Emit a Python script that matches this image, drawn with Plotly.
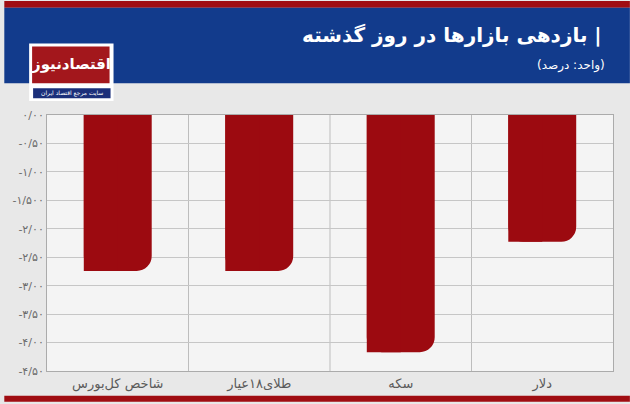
import plotly.graph_objects as go

categories = ["شاخص کل‌بورس", "طلای۱۸عیار", "سکه", "دلار"]
values = [-2.74, -2.74, -4.17, -2.23]
tick_vals = [0, -0.5, -1, -1.5, -2, -2.5, -3, -3.5, -4, -4.5]
tick_text = ["۰/۰۰", "-۰/۵۰", "-۱/۰۰", "-۱/۵۰۰", "-۲/۰۰", "-۲/۵۰", "-۳/۰۰", "-۳/۵۰", "-۴/۰۰", "-۴/۵۰"]
title_text = "بازدهی بازارها در روز گذشته"
subtitle_text = "(واحد: درصد)"
logo_text = "اقتصادنیوز"
logo_sub = "سایت مرجع اقتصاد ایران"

W, H = 630, 404
L, R, T, B = 43, 17, 115, 31
PW, PH = W - L - R, H - T - B

def px(x):
    return (x - L) / PW

def py(y):
    return (H - B - y) / PH

BAR = "#9c0a10"
BLUE = "#123b8c"
RED = "#a00d12"
FONT = "DejaVu Sans"

fig = go.Figure()
fig.add_trace(go.Bar(x=categories, y=values, width=0.48, marker=dict(color=BAR, line=dict(width=0), cornerradius=15),
                     hoverinfo="skip", showlegend=False))
fig.add_trace(go.Bar(x=categories, y=values, width=0.24, offset=-0.24, marker=dict(color=BAR, line=dict(width=0)),
                     hoverinfo="skip", showlegend=False))

shapes = []
# header bands
shapes.append(dict(type="rect", xref="paper", yref="paper", x0=px(0), x1=px(W), y0=py(7), y1=py(0),
                   fillcolor=RED, line=dict(width=0), layer="below"))
shapes.append(dict(type="rect", xref="paper", yref="paper", x0=px(0), x1=px(W), y0=py(83), y1=py(7),
                   fillcolor=BLUE, line=dict(width=0), layer="below"))
shapes.append(dict(type="rect", xref="paper", yref="paper", x0=px(0), x1=px(W), y0=py(H), y1=py(398),
                   fillcolor=RED, line=dict(width=0), layer="below"))
# logo
shapes.append(dict(type="rect", xref="paper", yref="paper", x0=px(25), x1=px(110), y0=py(101), y1=py(43),
                   fillcolor="white", line=dict(width=0), layer="above"))
shapes.append(dict(type="rect", xref="paper", yref="paper", x0=px(28), x1=px(106), y0=py(83), y1=py(46),
                   fillcolor="#a3171c", line=dict(width=0), layer="above"))
shapes.append(dict(type="rect", xref="paper", yref="paper", x0=px(29), x1=px(107), y0=py(98), y1=py(88),
                   fillcolor="#1b2f7a", line=dict(width=0), layer="above"))
# category separator lines
for b in [0.5, 1.5, 2.5]:
    shapes.append(dict(type="line", xref="x", yref="paper", x0=b, x1=b, y0=0, y1=1,
                       line=dict(color="#bdbdbd", width=1), layer="below"))

annotations = [
    dict(text="<b>\u200f| " + title_text + "</b>", x=px(604), y=py(34), xref="paper", yref="paper", xanchor="right",
         yanchor="middle", showarrow=False, font=dict(family=FONT, size=20, color="white")),
    dict(text="\u200f" + subtitle_text + "\u200f", x=px(607), y=py(65), xref="paper", yref="paper", xanchor="right",
         yanchor="middle", showarrow=False, font=dict(family=FONT, size=12, color="white")),
    dict(text="<b>" + logo_text + "</b>", x=px(67), y=py(64), xref="paper", yref="paper", xanchor="center",
         yanchor="middle", showarrow=False, font=dict(family=FONT, size=15, color="white")),
    dict(text=logo_sub, x=px(68), y=py(93), xref="paper", yref="paper", xanchor="center",
         yanchor="middle", showarrow=False, font=dict(family=FONT, size=6, color="white")),
]

fig.update_layout(
    width=W, height=H, autosize=False,
    margin=dict(l=L, r=R, t=T, b=B, pad=0),
    paper_bgcolor="#e8e8e8", plot_bgcolor="#f4f4f4",
    barmode="overlay",
    shapes=shapes, annotations=annotations,
    xaxis=dict(type="category", showgrid=False, showline=True, mirror=True, linecolor="#ababab", linewidth=1,
               ticks="", tickfont=dict(family=FONT, size=13, color="#5a5a5a"), fixedrange=True),
    yaxis=dict(range=[-4.5, 0], tickvals=tick_vals, ticktext=tick_text, showgrid=True, gridcolor="#c6c6c6",
               gridwidth=1, showline=True, mirror=True, linecolor="#ababab", linewidth=1, zeroline=False,
               ticks="", tickfont=dict(family=FONT, size=11, color="#6b6b6b"), fixedrange=True),
    font=dict(family=FONT),
)

fig.write_html("out.html", config={"displayModeBar": False})

with open("out.html", encoding="utf-8") as f:
    html = f.read()
html = html.replace("<body>", '<body style="margin:0;padding:0;overflow:hidden">', 1)
with open("out.html", "w", encoding="utf-8") as f:
    f.write(html)
